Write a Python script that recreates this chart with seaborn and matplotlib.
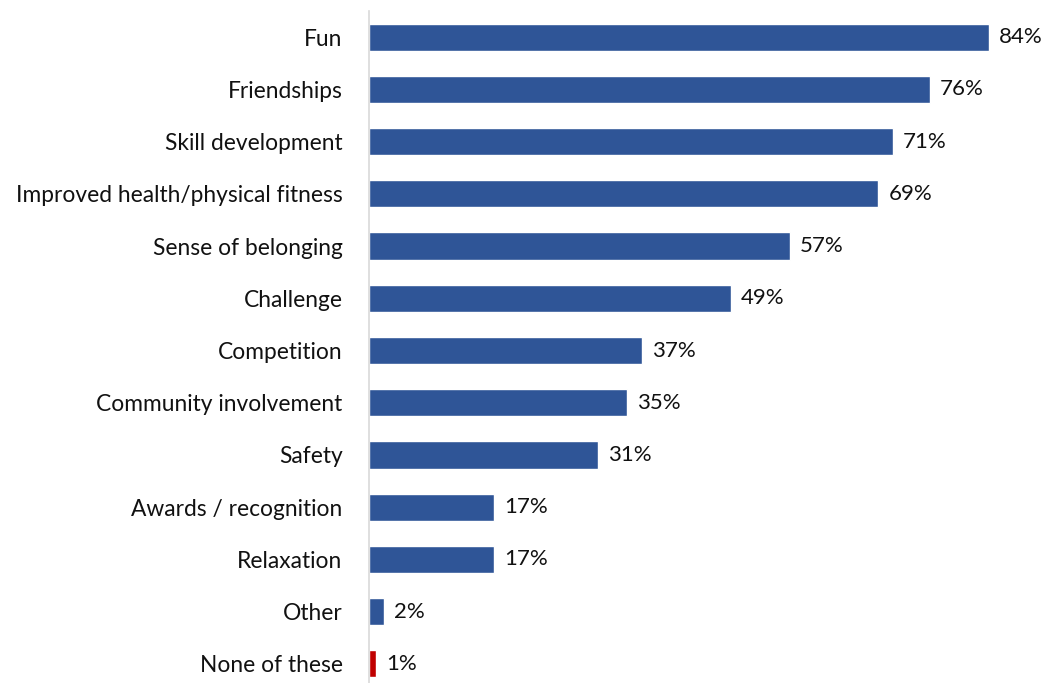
import matplotlib
matplotlib.use("Agg")
import matplotlib.pyplot as plt
import seaborn as sns
import pandas as pd

categories = ["Fun", "Friendships", "Skill development", "Improved health/physical fitness",
              "Sense of belonging", "Challenge", "Competition", "Community involvement",
              "Safety", "Awards / recognition", "Relaxation", "Other", "None of these"]
values = [84, 76, 71, 69, 57, 49, 37, 35, 31, 17, 17, 2, 1]
groups = ["main"] * 12 + ["none"]

df = pd.DataFrame({"reason": categories, "pct": values, "group": groups})

sns.set_theme(style="white")
plt.rcParams["font.family"] = ["Lato", "DejaVu Sans"]

fig = plt.figure(figsize=(10.46, 6.83), dpi=100)
ax = fig.add_axes([369 / 1046, -7 / 683, (1040 - 369) / 1046, 679 / 683])

sns.barplot(data=df, x="pct", y="reason", hue="group", dodge=False,
            palette={"main": "#2F5597", "none": "#C00000"},
            width=0.52, legend=False, ax=ax, saturation=1)

ax.set_xlim(0, 90.9)
ax.set_xlabel("")
ax.set_ylabel("")
ax.set_xticks([])
for s in ["top", "right", "bottom"]:
    ax.spines[s].set_visible(False)
ax.spines["left"].set_color("#D9D9D9")
ax.spines["left"].set_linewidth(1.2)
ax.tick_params(axis="y", length=0, pad=19, labelsize=16.4, labelcolor="#111111")

for i, v in enumerate(values):
    ax.text(v + 1.35, i, f"{v}%", va="center", ha="left", fontsize=16, color="#111111")

fig.savefig("out.png", dpi=100)
